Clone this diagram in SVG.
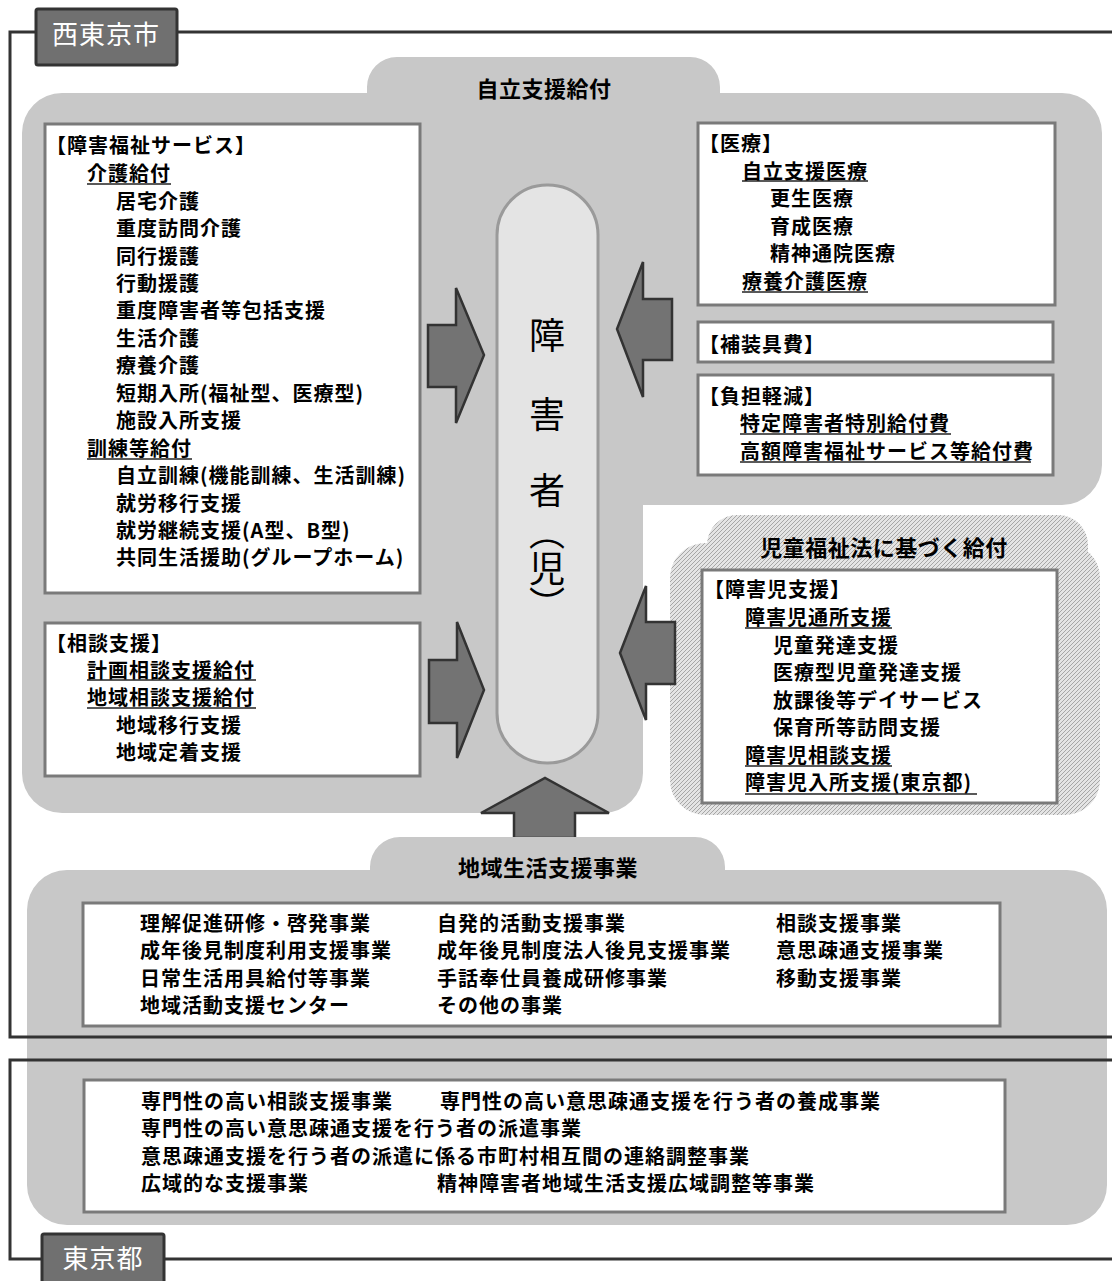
<svg xmlns="http://www.w3.org/2000/svg" width="1112" height="1281" viewBox="0 0 1112 1281">
<defs>
<pattern id="hatch" width="4" height="4" patternUnits="userSpaceOnUse">
<rect width="4" height="4" fill="#e4e4e4"/>
<path d="M0,4 L4,0 M-1,1 L1,-1 M3,5 L5,3" stroke="#a6a6a6" stroke-width="1"/>
</pattern>
<style>
.t{font-family:"Noto Sans CJK JP","Noto Sans CJK SC",sans-serif;font-size:20px;font-weight:700;letter-spacing:1px;fill:#000}
.h{font-size:22px;letter-spacing:0.5px;text-anchor:middle}
.lbl{font-family:"Noto Sans CJK JP",sans-serif;font-size:26px;letter-spacing:1px;fill:#fff;text-anchor:middle}
.big{font-family:"Noto Sans CJK JP",sans-serif;font-size:36px;fill:#000;text-anchor:middle}
.box{fill:#fff;stroke:#7a7a7a;stroke-width:3}
.gray{fill:#c8c8c8}
.hatch{fill:url(#hatch)}
.ul{stroke:#222;stroke-width:1.5}
.frame{fill:none;stroke:#333;stroke-width:3}
.lblbox{fill:#707070;stroke:#333;stroke-width:3}
.arrow{fill:#737373;stroke:#333;stroke-width:2.5;stroke-linejoin:miter}
</style>
</defs>
<rect width="1112" height="1281" fill="#fff"/>

<g id="region-jiritsu">
<path class="gray" d="M22,133 A40,40 0 0 1 62,93 H367 V87 A30,30 0 0 1 397,57 H690 A30,30 0 0 1 720,87 V93 H1062 A40,40 0 0 1 1102,133 V465 A40,40 0 0 1 1062,505 H643 V773 A40,40 0 0 1 603,813 H62 A40,40 0 0 1 22,773 Z"/>
<text class="t h" x="544" y="97">自立支援給付</text>
</g>

<g id="region-jidou">
<rect class="hatch" x="707" y="515" width="381" height="80" rx="30"/>
<rect class="hatch" x="670" y="543" width="430" height="272" rx="35"/>
<text class="t h" x="884" y="556">児童福祉法に基づく給付</text>
</g>

<g id="connectors">
<path class="arrow" d="M514,838 V813 H481 L545,778 L609,813 H575 V838 Z"/>
<path class="arrow" d="M428,325 H456 V288 L484,355 L456,423 V387 H428 Z"/>
<path class="arrow" d="M429,660 H457 V622 L484,690 L457,758 V723 H429 Z"/>
<path class="arrow" d="M672,299 H643 V262 L617,329 L643,397 V360 H672 Z"/>
<path class="arrow" d="M675,622 H646 V586 L620,653 L646,720 V684 H675 Z"/>
</g>

<g id="region-chiiki">
<path class="gray" d="M27,910 A40,40 0 0 1 67,870 H370 V867 A30,30 0 0 1 400,837 H695 A30,30 0 0 1 725,867 V870 H1067 A40,40 0 0 1 1107,910 V1185 A40,40 0 0 1 1067,1225 H67 A40,40 0 0 1 27,1185 Z"/>
<text class="t h" x="548" y="876">地域生活支援事業</text>
</g>

<g id="frame-nishitokyo">
<path class="frame" d="M1112,32 H10 V1037 H1112"/>
<rect class="lblbox" x="36" y="9" width="141" height="56" rx="2"/>
<text class="lbl" x="106" y="44">西東京市</text>
</g>

<g id="frame-tokyo">
<path class="frame" d="M1112,1060 H10 V1259 H1112"/>
<rect class="lblbox" x="42" y="1234" width="122" height="60" rx="2"/>
<text class="lbl" x="103" y="1268">東京都</text>
</g>

<g id="node-shogaisha">
<rect x="497" y="185" width="101" height="578" rx="50" fill="#e4e4e4" stroke="#9a9a9a" stroke-width="3"/>
<text class="big" x="547" y="349">障</text>
<text class="big" x="547" y="428">害</text>
<text class="big" x="547" y="504">者</text>
<text class="big" x="547" y="568" style="writing-mode:vertical-rl">（児）</text>
</g>

<g id="node-fukushi">
<rect class="box" x="45" y="124" width="375" height="469"/>
<text class="t" x="46" y="153">【障害福祉サービス】</text>
<text class="t" x="87" y="181">介護給付</text>
<line class="ul" x1="87" y1="184" x2="171" y2="184"/>
<text class="t" x="116" y="209">居宅介護</text>
<text class="t" x="116" y="236">重度訪問介護</text>
<text class="t" x="116" y="264">同行援護</text>
<text class="t" x="116" y="291">行動援護</text>
<text class="t" x="116" y="318">重度障害者等包括支援</text>
<text class="t" x="116" y="346">生活介護</text>
<text class="t" x="116" y="373">療養介護</text>
<text class="t" x="116" y="401">短期入所(福祉型、医療型)</text>
<text class="t" x="116" y="428">施設入所支援</text>
<text class="t" x="87" y="456">訓練等給付</text>
<line class="ul" x1="87" y1="459" x2="192" y2="459"/>
<text class="t" x="116" y="483">自立訓練(機能訓練、生活訓練)</text>
<text class="t" x="116" y="511">就労移行支援</text>
<text class="t" x="116" y="538">就労継続支援(A型、B型)</text>
<text class="t" x="116" y="565">共同生活援助(グループホーム)</text>
</g>

<g id="node-soudan">
<rect class="box" x="45" y="623" width="375" height="153"/>
<text class="t" x="46" y="651">【相談支援】</text>
<text class="t" x="87" y="678">計画相談支援給付</text>
<line class="ul" x1="87" y1="680" x2="256" y2="680"/>
<text class="t" x="87" y="705">地域相談支援給付</text>
<line class="ul" x1="87" y1="708" x2="256" y2="708"/>
<text class="t" x="116" y="733">地域移行支援</text>
<text class="t" x="116" y="760">地域定着支援</text>
</g>

<g id="node-iryo">
<rect class="box" x="698" y="123" width="357" height="182"/>
<text class="t" x="699" y="151">【医療】</text>
<text class="t" x="742" y="179">自立支援医療</text>
<line class="ul" x1="742" y1="181" x2="868" y2="181"/>
<text class="t" x="770" y="206">更生医療</text>
<text class="t" x="770" y="234">育成医療</text>
<text class="t" x="770" y="261">精神通院医療</text>
<text class="t" x="742" y="289">療養介護医療</text>
<line class="ul" x1="742" y1="292" x2="868" y2="292"/>
</g>

<g id="node-hosougu">
<rect class="box" x="698" y="322" width="355" height="40"/>
<text class="t" x="699" y="352">【補装具費】</text>
</g>

<g id="node-futan">
<rect class="box" x="698" y="375" width="355" height="100"/>
<text class="t" x="699" y="404">【負担軽減】</text>
<text class="t" x="740" y="431">特定障害者特別給付費</text>
<line class="ul" x1="740" y1="434" x2="951" y2="434"/>
<text class="t" x="740" y="459">高額障害福祉サービス等給付費</text>
<line class="ul" x1="740" y1="462" x2="1031" y2="462"/>
</g>

<g id="node-shogaiji">
<rect class="box" x="702" y="570" width="355" height="233"/>
<text class="t" x="704" y="597">【障害児支援】</text>
<text class="t" x="745" y="625">障害児通所支援</text>
<line class="ul" x1="745" y1="628" x2="892" y2="628"/>
<text class="t" x="773" y="653">児童発達支援</text>
<text class="t" x="773" y="680">医療型児童発達支援</text>
<text class="t" x="773" y="708">放課後等デイサービス</text>
<text class="t" x="773" y="735">保育所等訪問支援</text>
<text class="t" x="745" y="763">障害児相談支援</text>
<line class="ul" x1="745" y1="766" x2="892" y2="766"/>
<text class="t" x="745" y="790">障害児入所支援(東京都)</text>
<line class="ul" x1="745" y1="794" x2="977" y2="794"/>
</g>

<g id="node-chiiki-box">
<rect class="box" x="83" y="903" width="917" height="123"/>
<text class="t" x="140" y="931">理解促進研修・啓発事業</text>
<text class="t" x="140" y="958">成年後見制度利用支援事業</text>
<text class="t" x="140" y="986">日常生活用具給付等事業</text>
<text class="t" x="140" y="1013">地域活動支援センター</text>
<text class="t" x="437" y="931">自発的活動支援事業</text>
<text class="t" x="437" y="958">成年後見制度法人後見支援事業</text>
<text class="t" x="437" y="986">手話奉仕員養成研修事業</text>
<text class="t" x="437" y="1013">その他の事業</text>
<text class="t" x="776" y="931">相談支援事業</text>
<text class="t" x="776" y="958">意思疎通支援事業</text>
<text class="t" x="776" y="986">移動支援事業</text>
</g>

<g id="node-tokyo-box">
<rect class="box" x="84" y="1080" width="921" height="132"/>
<text class="t" x="141" y="1109">専門性の高い相談支援事業</text>
<text class="t" x="440" y="1109">専門性の高い意思疎通支援を行う者の養成事業</text>
<text class="t" x="141" y="1136">専門性の高い意思疎通支援を行う者の派遣事業</text>
<text class="t" x="141" y="1164">意思疎通支援を行う者の派遣に係る市町村相互間の連絡調整事業</text>
<text class="t" x="141" y="1191">広域的な支援事業</text>
<text class="t" x="437" y="1191">精神障害者地域生活支援広域調整等事業</text>
</g>
</svg>
